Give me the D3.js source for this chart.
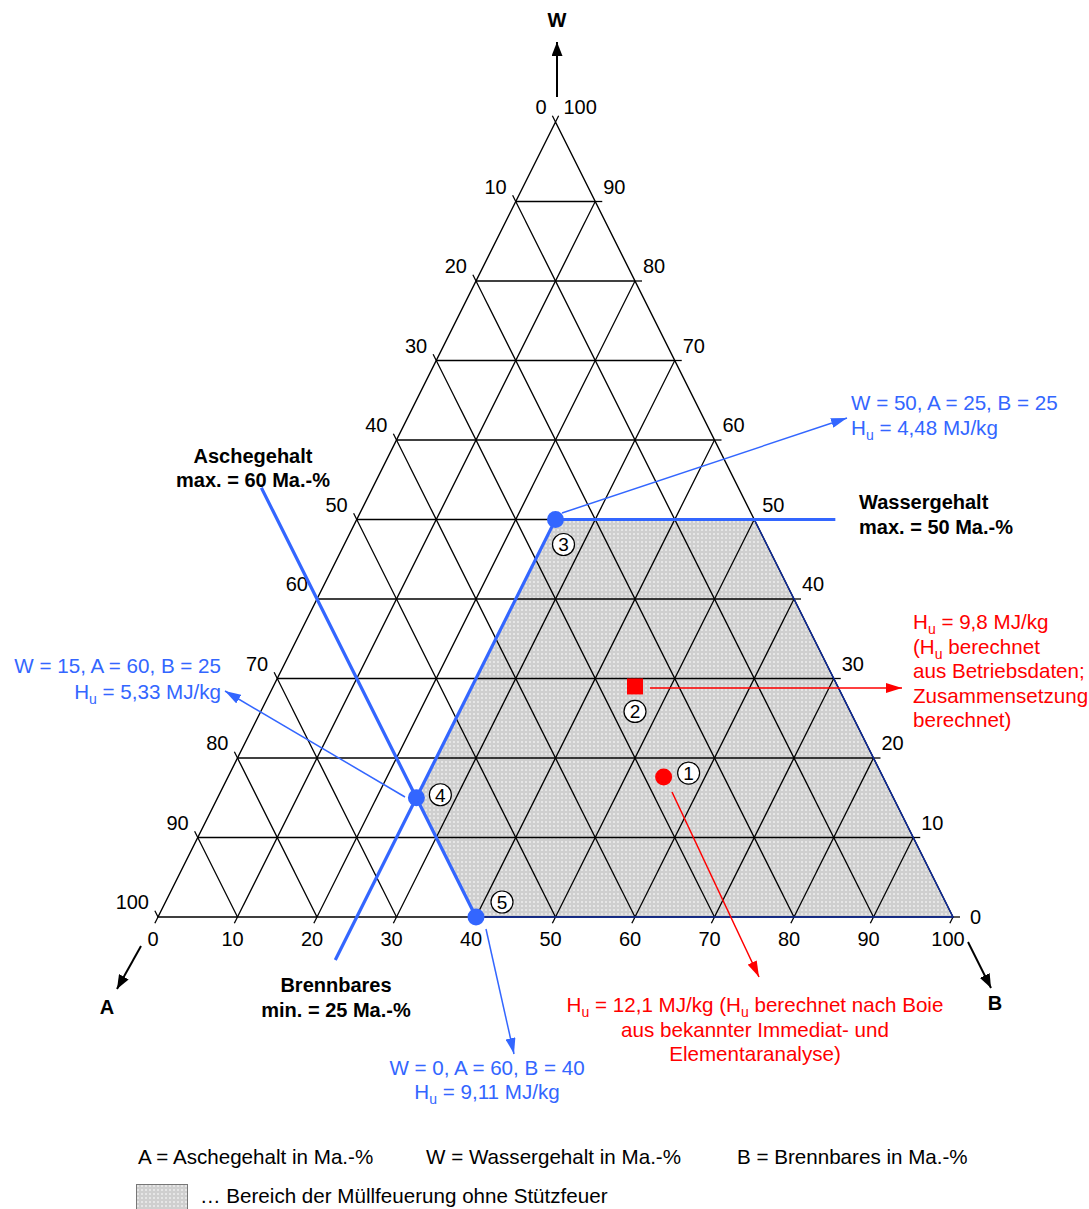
<!DOCTYPE html>
<html lang="de">
<head>
<meta charset="utf-8">
<title>Müllfeuerung – Dreiecksdiagramm</title>
<script src="https://cdn.jsdelivr.net/npm/d3@7"></script>
<style>
  html, body { margin: 0; padding: 0; background: #ffffff; }
  svg { display: block; font-family: "Liberation Sans", Arial, sans-serif; }
</style>
</head>
<body>
<svg id="chart" width="1089" height="1209"></svg>
<script>
// ---- Data -------------------------------------------------------------
// grid steps (Ma.-%) and the tick labels written on each side
const gridSteps   = [0, 10, 20, 30, 40, 50, 60, 70, 80, 90, 100];
const tickLabels  = ["0", "10", "20", "30", "40", "50", "60", "70", "80", "90", "100"];

// limits of the firing range without support fuel
const waterMax    = 50;   // Wassergehalt max.
const ashMax      = 60;   // Aschegehalt max.
const combustMin  = 25;   // Brennbares min.

// marked compositions (W, A, B in Ma.-%)
const pointIds    = ["1", "2", "3", "4", "5"];
const pointW      = [17.6, 29.0, 50, 15, 0];
const pointA      = [27.6, 25.5, 25, 60, 60];
const pointB      = [54.8, 45.5, 25, 25, 40];
const pointKind   = ["circleRed", "squareRed", "circleBlue", "circleBlue", "circleBlue"];

// ---- Scales -----------------------------------------------------------
const svg = d3.select("#chart");
const x = d3.scaleLinear().domain([0, 100]).range([158, 953]);   // along the base
const y = d3.scaleLinear().domain([0, 100]).range([917, 122]);   // water content height
// ternary (W, B) -> pixel; A = 100 - W - B
const P = (w, b) => [x(b + w / 2), y(w)];

const BLUE = "#3366ff";
const RED = "#ff0000";
const FS = 20;      // tick labels, bold captions
const FT = 20.6;    // running text

// ---- defs: fill pattern and arrowheads --------------------------------
const defs = svg.append("defs");
const pat = defs.append("pattern").attr("id", "dots")
  .attr("width", 4).attr("height", 4).attr("patternUnits", "userSpaceOnUse");
pat.append("rect").attr("width", 4).attr("height", 4).attr("fill", "#cfcfcf");
pat.append("rect").attr("x", 1).attr("y", 1).attr("width", 2).attr("height", 2).attr("fill", "#e6e6e6");

function arrowMarker(id, color, len, wid) {
  defs.append("marker").attr("id", id)
    .attr("viewBox", `0 0 ${len} ${wid}`)
    .attr("refX", len).attr("refY", wid / 2)
    .attr("markerWidth", len).attr("markerHeight", wid)
    .attr("markerUnits", "userSpaceOnUse")
    .attr("orient", "auto")
    .append("path").attr("d", `M0,0 L${len},${wid / 2} L0,${wid} Z`).attr("fill", color);
}
arrowMarker("arrBlue", BLUE, 16, 10);
arrowMarker("arrRed", RED, 16, 10);
arrowMarker("arrBlack", "#000", 14, 11);

const line = d3.line();

// ---- shaded firing range ----------------------------------------------
const region = [
  P(waterMax, combustMin),
  P(waterMax, 100 - waterMax),
  P(0, 100),
  P(0, 100 - ashMax),
  P(100 - ashMax - combustMin, combustMin)
];
svg.append("path").attr("d", line(region) + "Z").attr("fill", "url(#dots)").attr("stroke", "none");

// ---- grid ---------------------------------------------------------------
const grid = svg.append("g").attr("stroke", "#000").attr("stroke-width", 1.3).attr("fill", "none");
const inner = gridSteps.filter(v => v > 0 && v < 100);
inner.forEach(v => {
  grid.append("path").attr("d", line([P(v, 0), P(v, 100 - v)]));           // W = v
  grid.append("path").attr("d", line([P(100 - v, 0), P(0, 100 - v)]));     // A = v
  grid.append("path").attr("d", line([P(0, v), P(100 - v, v)]));           // B = v
});
// outer triangle
grid.append("path").attr("d", line([P(0, 0), P(0, 100), P(100, 0)]) + "Z").attr("stroke-width", 1.4);

// edge ticks
const TL = 7;
const norm = (dx, dy) => { const l = Math.hypot(dx, dy); return [dx / l, dy / l]; };
const uB = norm(x(0) - x(50), y(0) - y(100));    // down-left, along B lines
const uA = norm(x(50) - x(100), y(100) - y(0));  // up-left, along A lines
gridSteps.forEach(v => {
  const pb = P(0, v);
  grid.append("path").attr("d", line([pb, [pb[0] + TL * uB[0], pb[1] + TL * uB[1]]]));
  const pa = P(100 - v, 0);
  grid.append("path").attr("d", line([pa, [pa[0] + TL * uA[0], pa[1] + TL * uA[1]]]));
  const pw = P(v, 100 - v);
  if (v < 100) grid.append("path").attr("d", line([pw, [pw[0] + TL, pw[1]]]));
});
// left edge continues slightly past the apex
const apex = P(100, 0);
grid.append("path").attr("d", line([apex, [apex[0] - TL * uB[0], apex[1] - TL * uB[1]]]));

// outline of the firing range along the triangle edges
svg.append("path").attr("d", line([P(waterMax, 100 - waterMax), P(0, 100), P(0, 100 - ashMax)]))
  .attr("fill", "none").attr("stroke", "#0d2a9e").attr("stroke-width", 1.4);

// ---- tick labels ------------------------------------------------------
const lab = svg.append("g").attr("font-size", FS).attr("fill", "#000");
gridSteps.forEach((v, i) => {
  const pb = P(0, v);
  lab.append("text").attr("x", pb[0] - 5).attr("y", pb[1] + 29).attr("text-anchor", "middle").text(tickLabels[i]);
  const pa = P(100 - v, 0);
  lab.append("text").attr("x", pa[0] - 9).attr("y", pa[1] - 8).attr("text-anchor", "end").text(tickLabels[i]);
  const pw = P(v, 100 - v);
  if (v === 0) {
    lab.append("text").attr("x", pw[0] + 17).attr("y", pw[1] + 7).text(tickLabels[i]);
  } else {
    lab.append("text").attr("x", pw[0] + 8).attr("y", pw[1] - 8).text(tickLabels[i]);
  }
});

// ---- axis arrows ------------------------------------------------------
const axes = svg.append("g").attr("stroke", "#000").attr("stroke-width", 2);
axes.append("path").attr("d", line([[557, 97], [557, 42]])).attr("marker-end", "url(#arrBlack)");
axes.append("path").attr("d", line([[141, 946], [117, 989]])).attr("marker-end", "url(#arrBlack)");
axes.append("path").attr("d", line([[968, 942], [991, 988]])).attr("marker-end", "url(#arrBlack)");
const axLab = svg.append("g").attr("font-size", FS).attr("font-weight", "bold").attr("text-anchor", "middle");
axLab.append("text").attr("x", 557).attr("y", 27).text("W");
axLab.append("text").attr("x", 107).attr("y", 1014).text("A");
axLab.append("text").attr("x", 995).attr("y", 1010).text("B");

// ---- limit lines --------------------------------------------------------
const lim = svg.append("g").attr("stroke", BLUE).attr("stroke-width", 3.2).attr("fill", "none")
  .attr("stroke-linecap", "butt").attr("stroke-linejoin", "miter");
// A = 60 (B = 100 - A - W), drawn from above the left edge down to the base
lim.append("path").attr("d", line([P(54, 100 - ashMax - 54), P(0, 100 - ashMax)]));
// B = 25 from below the base up to W = 50, then W = 50 past the right edge
lim.append("path").attr("d", line([P(-5.4, combustMin), P(waterMax, combustMin), P(waterMax, 60.2)]));

// ---- annotation arrows -------------------------------------------------
const ann = svg.append("g").attr("fill", "none").attr("stroke-width", 1.5);
ann.append("path").attr("d", line([[562, 513], [847, 418]])).attr("stroke", BLUE).attr("marker-end", "url(#arrBlue)");
ann.append("path").attr("d", line([[405, 797], [225, 691]])).attr("stroke", BLUE).attr("marker-end", "url(#arrBlue)");
ann.append("path").attr("d", line([[486, 929], [514, 1054]])).attr("stroke", BLUE).attr("marker-end", "url(#arrBlue)");
ann.append("path").attr("d", line([[650, 688], [902, 688]])).attr("stroke", RED).attr("marker-end", "url(#arrRed)");
ann.append("path").attr("d", line([[672, 792], [759, 977]])).attr("stroke", RED).attr("marker-end", "url(#arrRed)");

// ---- points ------------------------------------------------------------
const numOffset = { "1": [25, -4], "2": [0, 25], "3": [8, 25], "4": [24, -3], "5": [26, -15] };
pointIds.forEach((id, i) => {
  const [px, py] = P(pointW[i], pointB[i]);
  const kind = pointKind[i];
  if (kind === "squareRed") {
    svg.append("rect").attr("x", px - 8).attr("y", py - 8).attr("width", 16).attr("height", 16).attr("fill", RED);
  } else {
    svg.append("circle").attr("cx", px).attr("cy", py).attr("r", 8.5)
      .attr("fill", kind === "circleRed" ? RED : BLUE);
  }
  const [ox, oy] = numOffset[id];
  const g = svg.append("g").attr("transform", `translate(${px + ox},${py + oy})`);
  g.append("circle").attr("r", 11).attr("fill", "#fff").attr("stroke", "#000").attr("stroke-width", 1.2);
  g.append("text").attr("text-anchor", "middle").attr("y", 6.8).attr("font-size", 19).text(id);
});

// ---- text blocks --------------------------------------------------------
// each line is a list of parts; {sub: "..."} parts are set as subscripts
function block(lines, opts) {
  const t = svg.append("g").attr("font-size", opts.bold ? FS : FT).attr("fill", opts.color || "#000")
    .attr("font-weight", opts.bold ? "bold" : "normal").attr("text-anchor", opts.anchor || "start");
  lines.forEach((ln, k) => {
    const tx = t.append("text").attr("x", opts.x).attr("y", opts.y + k * opts.dy);
    let shift = 0;
    ln.forEach(part => {
      if (typeof part === "string") {
        tx.append("tspan").attr("dy", -shift).text(part);
        shift = 0;
      } else {
        tx.append("tspan").attr("font-size", 14).attr("dy", 5).text(part.sub);
        shift = 5;
      }
    });
  });
}
const Hu = ["H", { sub: "u" }];

block([["Aschegehalt"], ["max. = 60 Ma.-%"]], { x: 253, y: 463, dy: 24, bold: true, anchor: "middle" });
block([["Wassergehalt"], ["max. = 50 Ma.-%"]], { x: 859, y: 509, dy: 25, bold: true });
block([["Brennbares"], ["min. = 25 Ma.-%"]], { x: 336, y: 992, dy: 25, bold: true, anchor: "middle" });

block([["W = 50, A = 25, B = 25"], [...Hu, " = 4,48 MJ/kg"]], { x: 851, y: 410, dy: 25, color: BLUE });
block([["W = 15, A = 60, B = 25"], [...Hu, " = 5,33 MJ/kg"]], { x: 221, y: 673, dy: 26, color: BLUE, anchor: "end" });
block([["W = 0, A = 60, B = 40"], [...Hu, " = 9,11 MJ/kg"]], { x: 487, y: 1075, dy: 24, color: BLUE, anchor: "middle" });

block([[...Hu, " = 9,8 MJ/kg"], ["(", ...Hu, " berechnet"], ["aus Betriebsdaten;"], ["Zusammensetzung"], ["berechnet)"]],
  { x: 913, y: 629, dy: 24.5, color: RED });
block([[...Hu, " = 12,1 MJ/kg (", ...Hu, " berechnet nach Boie"], ["aus bekannter Immediat- und"], ["Elementaranalyse)"]],
  { x: 755, y: 1012, dy: 24.5, color: RED, anchor: "middle" });

// ---- legend -------------------------------------------------------------
const leg = svg.append("g").attr("font-size", FT);
leg.append("text").attr("x", 138).attr("y", 1164).text("A = Aschegehalt in Ma.-%");
leg.append("text").attr("x", 426).attr("y", 1164).text("W = Wassergehalt in Ma.-%");
leg.append("text").attr("x", 737).attr("y", 1164).text("B = Brennbares in Ma.-%");
leg.append("rect").attr("x", 136.5).attr("y", 1184.5).attr("width", 51).attr("height", 28)
  .attr("fill", "url(#dots)").attr("stroke", "#777").attr("stroke-width", 1);
leg.append("text").attr("x", 200).attr("y", 1203).text("… Bereich der Müllfeuerung ohne Stützfeuer");
</script>
</body>
</html>
